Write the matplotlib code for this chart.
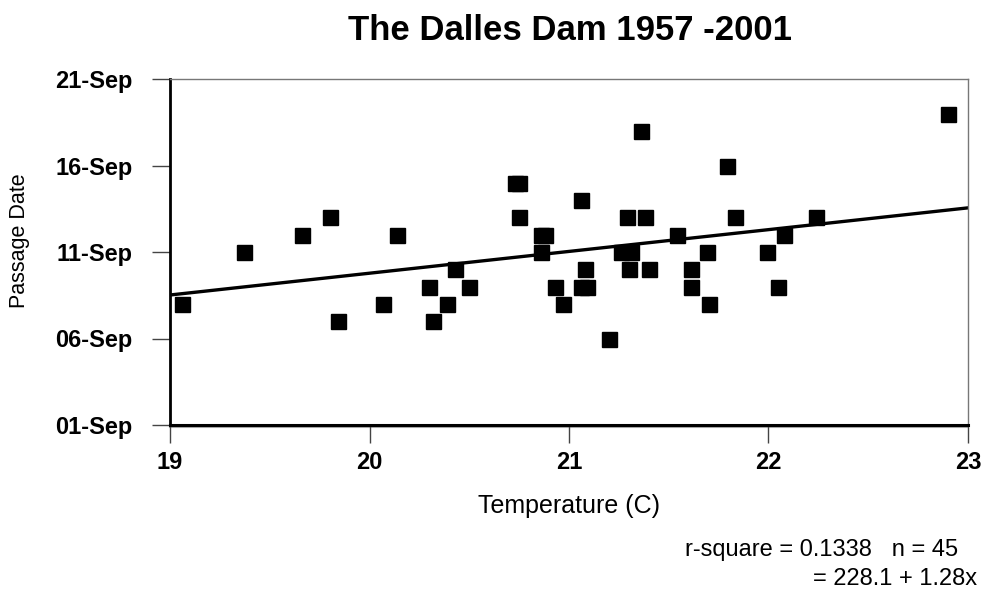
import numpy as np
import matplotlib
matplotlib.use("Agg")
import matplotlib.pyplot as plt
from matplotlib.lines import Line2D
from matplotlib.transforms import ScaledTranslation

plt.rcParams['font.family'] = ['Liberation Sans', 'DejaVu Sans']

# temperature (C) and passage day in September
temp = [19.06, 19.37, 19.66, 19.80, 19.84, 20.07, 20.14, 20.30, 20.32, 20.39,
        20.43, 20.50, 20.73, 20.75, 20.75, 20.86, 20.88, 20.86, 20.93, 20.97,
        21.06, 21.08, 21.06, 21.09, 21.20, 21.29, 21.38, 21.36, 21.26, 21.31,
        21.30, 21.40, 21.54, 21.61, 21.61, 21.69, 21.70, 21.79, 21.83, 21.99,
        22.05, 22.08, 22.24, 22.90]
day = [8, 11, 12, 13, 7, 8, 12, 9, 7, 8,
       10, 9, 15, 15, 13, 12, 12, 11, 9, 8,
       14, 10, 9, 9, 6, 13, 13, 18, 11, 11,
       10, 10, 12, 10, 9, 11, 8, 16, 13, 11,
       9, 12, 13, 19]

yticks = [1, 6, 11, 16, 21]
ylabels = ["%02d-Sep" % d for d in yticks]
xticks = [19, 20, 21, 22, 23]

fig = plt.figure(figsize=(9.85, 6.05), dpi=100)
ax = fig.add_axes([170/985, 1 - 425/605, 798/985, 346/605])

ax.plot(temp, day, 's', color='black', ms=10.8, zorder=3)

# linear trend
slope, icpt = np.polyfit(temp, day, 1)
xx = np.array([19, 23])
ax.plot(xx, icpt + slope * xx, color='black', lw=2.4, zorder=2)

ax.set_xlim(19, 23)
ax.set_ylim(1, 21)
ax.set_xticks(xticks)
ax.set_xticklabels([str(x) for x in xticks], fontsize=17, fontweight='bold')
ax.set_yticks(yticks)
ax.set_yticklabels(ylabels, fontsize=17, fontweight='bold')
ax.tick_params(axis='x', length=13, width=1, color='#444444', pad=6)
ax.tick_params(axis='y', length=13, width=1, color='#444444', pad=14)

for s in ['top', 'right']:
    ax.spines[s].set_color('#777777')
    ax.spines[s].set_linewidth(1)
ax.spines['left'].set_linewidth(2)
ax.spines['bottom'].set_linewidth(2.2)
ax.spines['left'].set_color('black')
ax.spines['bottom'].set_color('black')
# grey shadow under the x axis line
shadow = Line2D([0, 1], [0, 0], color='#aaaaaa', lw=1.5, zorder=0, clip_on=False,
                transform=ax.transAxes + ScaledTranslation(0, -2/100, fig.dpi_scale_trans))
ax.add_line(shadow)

ax.set_xlabel("Temperature (C)", fontsize=18, labelpad=14)
ax.set_ylabel("Passage Date", fontsize=15.5)
ax.yaxis.set_label_coords(-0.176, 0.532)
fig.text(570/985, 1 - 30/605, "The Dalles Dam 1957 -2001", fontsize=25,
         fontweight='bold', ha='center', va='center')

fig.text(958/985, 1 - 550/605, "r-square = 0.1338   n = 45", fontsize=17,
         ha='right', va='center')
fig.text(977/985, 1 - 579/605, "= 228.1 + 1.28x", fontsize=17,
         ha='right', va='center')

fig.savefig("out.png", dpi=100)
